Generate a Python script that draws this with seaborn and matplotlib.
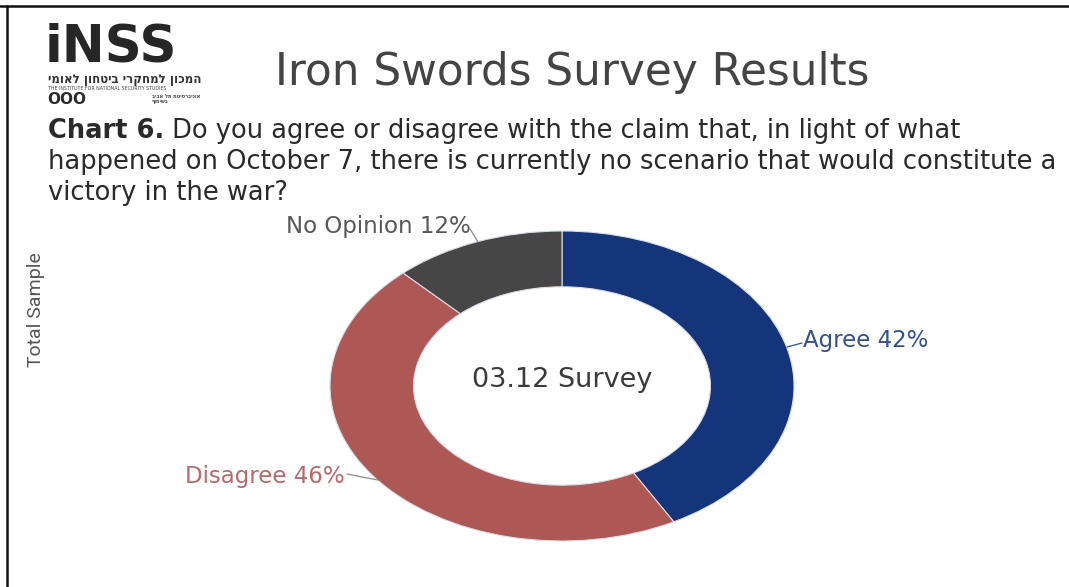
import matplotlib
matplotlib.use("Agg")
import matplotlib.pyplot as plt
from matplotlib.lines import Line2D
import seaborn as sns

# ---- data ----
categories = ["Agree", "Disagree", "No Opinion"]
values = [42, 46, 12]
label_texts = ["Agree 42%", "Disagree 46%", "No Opinion 12%"]
slice_colors = ["#15357a", "#ae5856", "#464646"]
label_colors = ["#34508e", "#b8686b", "#585858"]
center_text = "03.12 Survey"
title = "Iron Swords Survey Results"
question_bold = "Chart 6."
question_lines = [
    " Do you agree or disagree with the claim that, in light of what",
    "happened on October 7, there is currently no scenario that would constitute a",
    "victory in the war?",
]
side_label = "Total Sample"

sns.set_theme(style="white")
plt.rcParams["font.family"] = ["DejaVu Sans"]

W, H = 1069, 587
fig = plt.figure(figsize=(W / 100, H / 100), dpi=100)
fig.patch.set_facecolor("white")

def fx(px):
    return px / W

def fy(py):
    return 1 - py / H

# ---- border lines ----
fig.add_artist(Line2D([0, 1], [fy(6), fy(6)], color="#111111", lw=1.8, transform=fig.transFigure))
fig.add_artist(Line2D([fx(7), fx(7)], [0, fy(6)], color="#111111", lw=1.8, transform=fig.transFigure))

# ---- logo ----
fig.text(fx(45), fy(61), "iNSS", fontsize=37, fontweight="heavy", color="#262626",
         family=["DejaVu Sans"], va="baseline", ha="left")
fig.text(fx(48), fy(80), "ימואל ןוחטיב ירקחמל ןוכמה", fontsize=8.5, fontweight="bold",
         color="#333333", family=["DejaVu Sans"], va="center", ha="left")
fig.text(fx(48), fy(89), "THE INSTITUTE FOR NATIONAL SECURITY STUDIES", fontsize=3.4,
         color="#444444", family=["DejaVu Sans"], va="center", ha="left")
fig.text(fx(47), fy(99), "OOO", fontsize=11, fontweight="heavy", color="#2a2a2a",
         family=["DejaVu Sans"], va="center", ha="left")
fig.text(fx(152), fy(96), "ביבא לת תטיסרבינוא", fontsize=3.6, color="#444444",
         family=["DejaVu Sans"], va="center", ha="left", fontweight="bold")
fig.text(fx(152), fy(102), "ףותישב", fontsize=3.6, color="#444444",
         family=["DejaVu Sans"], va="center", ha="left", fontweight="bold")

# ---- title ----
fig.text(fx(275), fy(73), title, fontsize=31.5, color="#444444", va="center", ha="left",
         family=["DejaVu Sans"])

# ---- question ----
qfont = ["DejaVu Sans"]
qsize = 18.5
tb = fig.text(fx(48), fy(131), question_bold, fontsize=qsize, fontweight="bold",
              color="#2a2a2a", va="center", ha="left", family=qfont)
fig.canvas.draw()
bb = tb.get_window_extent()
fig.text(bb.x1 / W, fy(131), question_lines[0], fontsize=qsize, color="#2a2a2a",
         va="center", ha="left", family=qfont)
fig.text(fx(48), fy(162), question_lines[1], fontsize=qsize, color="#2a2a2a",
         va="center", ha="left", family=qfont)
fig.text(fx(48), fy(193), question_lines[2], fontsize=qsize, color="#2a2a2a",
         va="center", ha="left", family=qfont)

# ---- side label ----
fig.text(fx(36), fy(310), side_label, fontsize=14, color="#555555", rotation=90,
         va="center", ha="center", family=["Roboto", "DejaVu Sans"])

# ---- donut ----
cx, cy, rx, ry = 562, 386, 232, 155
ax = fig.add_axes([fx(cx - rx), fy(cy + ry), 2 * rx / W, 2 * ry / H])
wedges, _ = ax.pie(values, colors=slice_colors, startangle=90, counterclock=False,
                   radius=1.0, wedgeprops=dict(width=0.36, edgecolor="#d8dde8", linewidth=0.8))
ax.set_aspect("auto")
ax.set_xlim(-1, 1)
ax.set_ylim(-1, 1)
ax.axis("off")

ax.text(0, 0.04, center_text, fontsize=19.5, color="#3a3a3a", ha="center", va="center",
        family=["DejaVu Sans"])

def dx(px):
    return (px - cx) / rx

def dy(py):
    return (cy - py) / ry

lsize = 16.5
# leader lines and labels
ax.plot([dx(787), dx(802)], [dy(347), dy(343)], color=label_colors[0], lw=0.9, clip_on=False)
ax.text(dx(803), dy(341), label_texts[0], fontsize=lsize, color=label_colors[0],
        ha="left", va="center", clip_on=False)

ax.plot([dx(347), dx(362), dx(378)], [dy(474), dy(477), dy(480)], color="#8a8a8a", lw=0.9, clip_on=False)
ax.text(dx(345), dy(476), label_texts[1], fontsize=lsize, color=label_colors[1],
        ha="right", va="center", clip_on=False)

ax.plot([dx(470), dx(478)], [dy(229), dy(242)], color="#8a8a8a", lw=0.9, clip_on=False)
ax.text(dx(471), dy(226), label_texts[2], fontsize=lsize, color=label_colors[2],
        ha="right", va="center", clip_on=False)

fig.savefig("out.png", dpi=100, facecolor="white")
